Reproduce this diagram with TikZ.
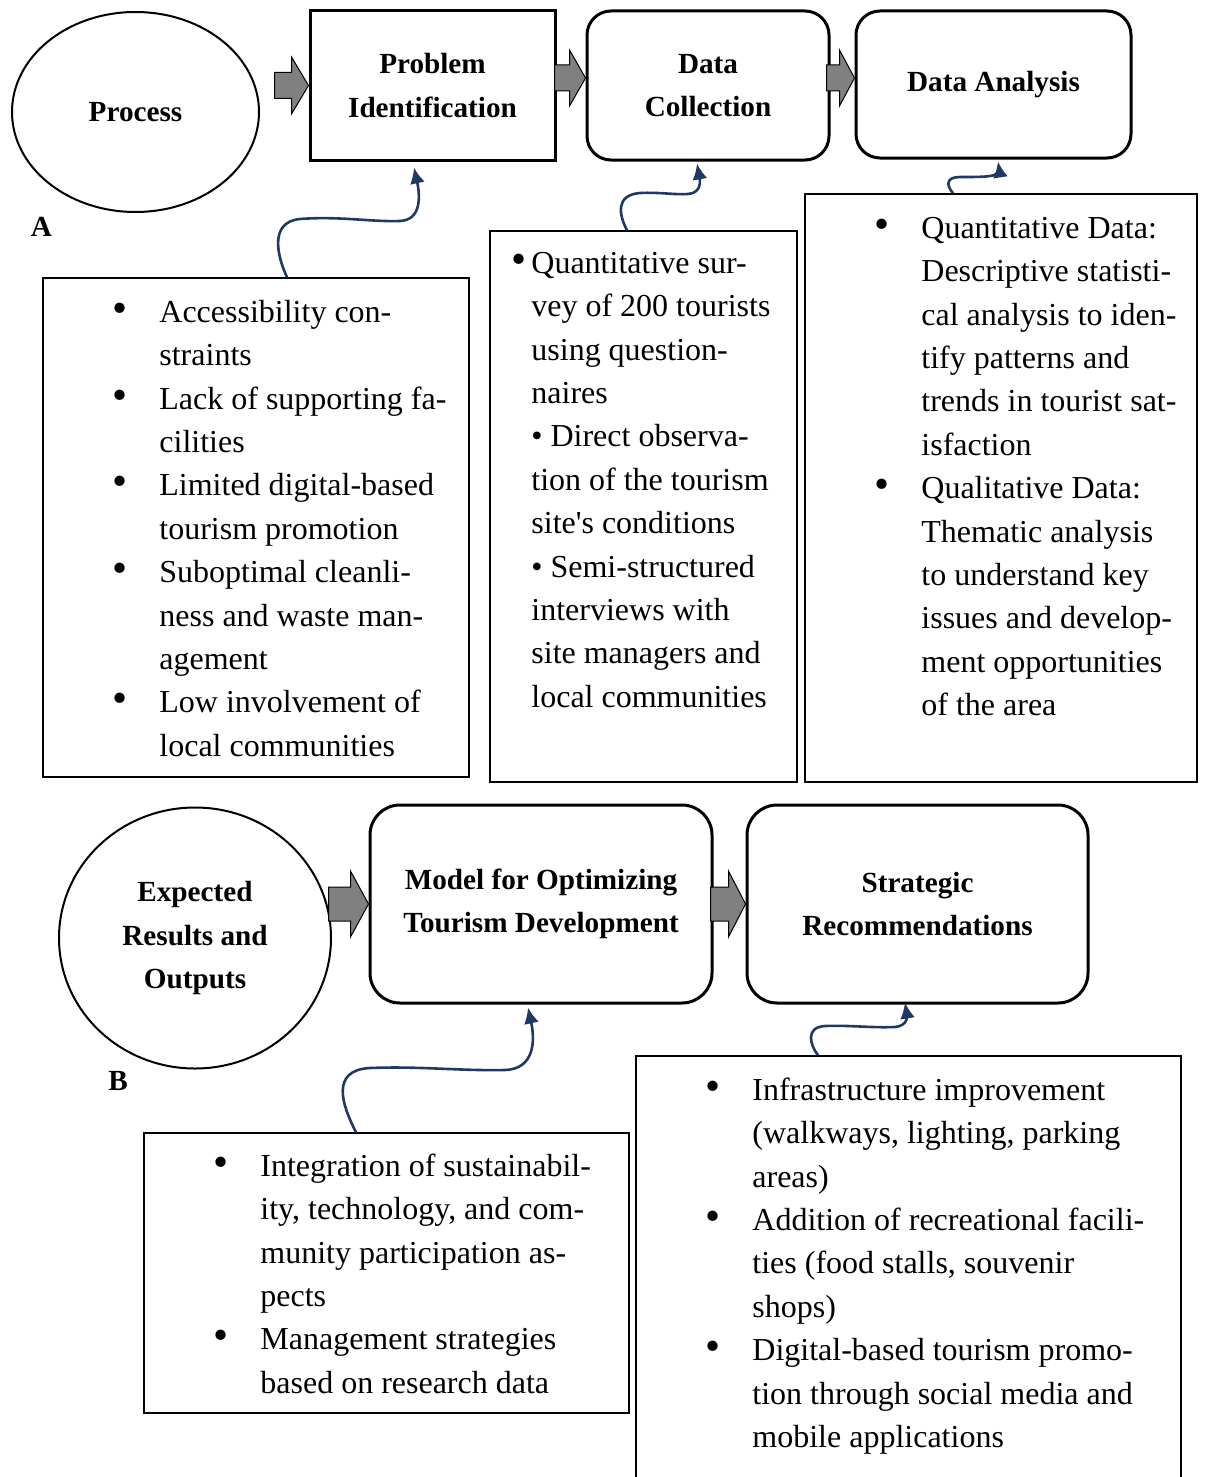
\documentclass[tikz,border=0pt]{standalone}
\usepackage{fontspec}
\setmainfont{Liberation Serif}
\usepackage{xcolor}
\usetikzlibrary{arrows.meta,positioning,calc,shapes.geometric}

\definecolor{navy}{RGB}{31,56,100}
\newcommand{\bigdot}{{\fontsize{21.5}{0}\selectfont\textbullet}}
\newcommand{\bul}[1]{\strut\llap{\makebox[23.3pt][l]{\bigdot}}#1}
\newcommand{\apos}{{\addfontfeature{Ligatures=TeXOff}'}}
% block arrow: tip, length, head length, half head, half shaft
\newcommand{\blk}[5]{\draw[barr] #1 -- ++(-#3,-#4) -- ++(0,#4-#5) -- ++(#3-#2,0) -- ++(0,2*#5) -- ++(#2-#3,0) -- ++(0,#4-#5) -- cycle;}

\begin{document}
\begin{tikzpicture}[
  x=0.5pt,y=-0.5pt,
  title/.style={align=center,font=\fontsize{14.6}{21.7}\selectfont\bfseries},
  head/.style={draw,line width=1.5pt,title,inner sep=0pt},
  rhead/.style={head,rounded corners=12pt},
  oval/.style={draw,ellipse,line width=1pt,title,inner sep=0pt},
  list/.style={draw,line width=0.75pt,inner sep=0pt},
  txt/.style={align=left,anchor=north west,inner sep=0pt,font=\fontsize{16}{21.7}\selectfont},
  curl/.style={-{Latex[length=8pt,width=7.5pt]},draw=navy,line width=1.3pt},
  barr/.style={draw=black,line width=0.5pt,fill=black!50},
  lbl/.style={anchor=base,font=\fontsize{14.6}{21.7}\selectfont\bfseries}
]
  \useasboundingbox (0,0) rectangle (1205,1477);

  % part A
  \node[oval, minimum width=123.5pt, minimum height=100pt] (proc) at (135.5,112) {Process};
  \node[head, minimum width=122.5pt, minimum height=74.5pt] (prob) at (432.5,85.5) {Problem\\Identification};
  \node[rhead, minimum width=121pt, minimum height=74.5pt] (coll) at (708,85.5) {Data\\Collection};
  \node[rhead, minimum width=137.5pt, minimum height=73.5pt] (anal) at (993.5,84.5) {Data Analysis};
  \node[lbl] (lblA) at (41.5,236) {A};

  \blk{(prob.west)}{34}{17}{28.5}{13}
  \blk{($(coll.west)+(0,-7.5)$)}{31}{16}{28}{13}
  \blk{($(anal.west)+(0,-6.5)$)}{28}{15}{28}{13}

  \node[list, minimum width=213pt, minimum height=249.5pt] (t1) at (256,527.5) {};
  \node[list, minimum width=153.5pt, minimum height=275.5pt] (t2) at (643.5,506.5) {};
  \node[list, minimum width=196pt, minimum height=294pt] (t3) at (1001,488) {};

  \node[txt] (l1) at (159,291.6) {\bul{Accessibility con-}\\straints\\\bul{Lack of supporting fa-}\\cilities\\
    \bul{Limited digital-based}\\tourism promotion\\\bul{Suboptimal cleanli-}\\ness and waste man-\\agement\\
    \bul{Low involvement of}\\local communities};
  \node[txt] (l2) at (531,242.6) {\strut\llap{\makebox[10pt][l]{\bigdot}}Quantitative sur-\\vey of 200 tourists\\using question-\\naires\\
    \textbullet{} Direct observa-\\tion of the tourism\\site\apos s conditions\\\textbullet{} Semi-structured\\interviews with\\
    site managers and\\local communities};
  \node[txt] (l3) at (921,207.6) {\bul{Quantitative Data:}\\Descriptive statisti-\\cal analysis to iden-\\tify patterns and\\
    trends in tourist sat-\\isfaction\\\bul{Qualitative Data:}\\Thematic analysis\\to understand key\\issues and develop-\\
    ment opportunities\\of the area};

  \coordinate (k1) at ($(t1.north)+(31,0)$);
  \coordinate (k2) at ($(t2.north)+(-16.5,0)$);
  \coordinate (k3) at ($(t3.north)+(-48,0)$);
  \draw[curl] (k1) .. controls (278,258) and (268,222) .. (300,219) .. controls (340,216) and (370,222) .. (400,221)
    .. controls (422,220) and (420,195) .. ($(prob.south)+(-18.5,6)$);
  \draw[curl] (k2) .. controls (619,215) and (615,195) .. (640,193) .. controls (660,192) and (675,195) .. (688,194)
    .. controls (702,193) and (700,180) .. ($(coll.south)+(-11,2)$);
  \draw[curl] (k3) .. controls (946,185) and (946,177) .. (960,177) .. controls (975,177) and (983,177) .. (990,176)
    .. controls (999,175) and (999,168) .. ($(anal.south)+(4.5,2)$);

  % part B
  \node[oval, minimum width=136pt, minimum height=130.5pt] (expect) at (195,938) {Expected\\Results and\\Outputs};
  \node[rhead, rounded corners=15pt, minimum width=171pt, minimum height=99pt] (model) at (541,904) {Model for Optimizing\\Tourism Development};
  \node[rhead, rounded corners=15pt, minimum width=170.5pt, minimum height=99pt] (strat) at (917.5,904) {Strategic\\Recommendations};
  \node[lbl] (lblB) at (118,1090) {B};

  \blk{(model.west)}{40}{18}{33}{17}
  \blk{(strat.west)}{35}{17}{33}{17}

  \node[list, minimum width=242.5pt, minimum height=140pt] (t4) at (386.5,1273) {};
  \node[list, minimum width=272.5pt, minimum height=217pt] (t5) at (908.5,1273) {};

  \node[txt] (l4) at (260,1145.6) {\bul{Integration of sustainabil-}\\ity, technology, and com-\\munity participation as-\\pects\\
    \bul{Management strategies}\\based on research data};
  \node[txt] (l5) at (752,1069.6) {\bul{Infrastructure improvement}\\(walkways, lighting, parking\\areas)\\
    \bul{Addition of recreational facili-}\\ties (food stalls, souvenir\\shops)\\
    \bul{Digital-based tourism promo-}\\tion through social media and\\mobile applications};

  \coordinate (k4) at ($(t4.north)+(-30.5,0)$);
  \coordinate (k5) at ($(t5.north)+(-90.5,0)$);
  \draw[curl] (k4) .. controls (342,1105) and (330,1070) .. (370,1068) .. controls (420,1066) and (460,1071) .. (505,1070)
    .. controls (535,1069) and (535,1040) .. ($(model.south)+(-13,3)$);
  \draw[curl] (k5) .. controls (810,1045) and (805,1027) .. (825,1026) .. controls (850,1025) and (870,1028) .. (895,1027)
    .. controls (908,1026) and (907,1015) .. ($(strat.south)+(-12.5,-2)$);
\end{tikzpicture}
\end{document}
